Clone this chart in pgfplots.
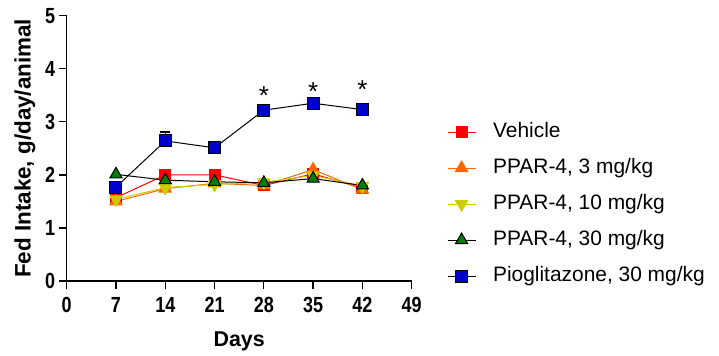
\documentclass[border=0pt]{standalone}
\usepackage{pgfplots}
\pgfplotsset{compat=1.18}
\usepackage{fontspec}
\setmainfont{Liberation Sans}
\newfontfamily\narrowbold[FakeStretch=0.82]{Liberation Sans Bold}
\definecolor{cRed}{RGB}{255,0,0}
\definecolor{cOrange}{RGB}{255,102,0}
\definecolor{cYellow}{RGB}{204,204,0}
\definecolor{cGreen}{RGB}{0,128,0}
\definecolor{cBlue}{RGB}{0,0,204}
\begin{document}
\begin{tikzpicture}
\useasboundingbox (-66.7bp,-75bp) rectangle (652.3bp,281bp);
\begin{axis}[
  at={(0,0)}, anchor=south west,
  scale only axis, width=345bp, height=265.3bp,
  xmin=0, xmax=49, ymin=0, ymax=5,
  axis lines=left,
  axis line style={line width=1.3bp, -},
  xtick={0,7,14,21,28,35,42,49},
  ytick={0,1,2,3,4,5},
  tick align=outside,
  major tick length=8bp,
  tick style={line width=1.3bp, black},
  /pgf/number format/assume math mode=true,
  tick label style={font=\narrowbold\fontsize{22}{26}\selectfont},
  xticklabel style={yshift=-5bp},
  xlabel={Days},
  ylabel={Fed Intake, g/day/animal},
  xlabel style={font=\bfseries\fontsize{21.5}{25}\selectfont, at={(rel axis cs:0.5,0)}, anchor=center, yshift=-60bp},
  ylabel style={font=\bfseries\fontsize{22.5}{26}\selectfont, at={(rel axis cs:0,0.5)}, anchor=center, yshift=41.7bp},
  legend cell align=left,
  legend style={draw=none, fill=none, at={(rel axis cs:1.102,0.29)}, anchor=west,
    inner sep=0pt, font=\fontsize{21}{25}\selectfont, row sep=16bp,
    nodes={text height=15bp, text depth=5bp, inner sep=0pt},
    /tikz/every odd column/.append style={column sep=17bp}},
  legend image code/.code={\draw[mark repeat=2,mark phase=2] plot coordinates {(0bp,0bp)(14bp,0bp)(28bp,0bp)};},
  clip=false,
]
\addplot[cRed, line width=1bp, mark=square*, mark size=5.5bp, mark options={fill=cRed, draw=cRed}]
  coordinates {(7,1.57)(14,2.00)(21,2.00)(28,1.80)(35,2.02)(42,1.75)};
\addlegendentry{Vehicle}
\addplot[cOrange, line width=1bp, mark=triangle*, mark size=7bp, mark options={fill=cOrange, draw=cOrange}]
  coordinates {(7,1.50)(14,1.74)(21,1.84)(28,1.80)(35,2.10)(42,1.72)};
\addlegendentry{PPAR-4, 3 mg/kg}
\addplot[cYellow, line width=1bp, mark=triangle*, mark size=7bp, mark options={fill=cYellow, draw=cYellow, rotate=180}]
  coordinates {(7,1.54)(14,1.76)(21,1.82)(28,1.86)(35,1.99)(42,1.79)};
\addlegendentry{PPAR-4, 10 mg/kg}
\addplot[black, line width=1bp, mark=triangle*, mark size=7bp, mark options={fill=cGreen, draw=black}]
  coordinates {(7,2.01)(14,1.90)(21,1.87)(28,1.85)(35,1.93)(42,1.80)};
\addlegendentry{PPAR-4, 30 mg/kg}
\addplot[black, line width=1bp, mark=square*, mark size=6bp, mark options={fill=cBlue, draw=black},
  error bars/.cd, y dir=plus, y explicit, error mark options={rotate=90, mark size=5bp, line width=1.3bp}, error bar style={line width=1.3bp}]
  coordinates {(7,1.77) +- (0,0) (14,2.64) +- (0,0.17) (21,2.51) +- (0,0) (28,3.22) +- (0,0) (35,3.35) +- (0,0) (42,3.23) +- (0,0)};
\addlegendentry{Pioglitazone, 30 mg/kg}
\addplot[draw=none, forget plot, nodes near coords={*}, nodes near coords align=center,
  every node near coord/.append style={font=\fontsize{26}{30}\selectfont, anchor=center, yshift=-4bp}]
  coordinates {(28,3.57)(35,3.65)(42,3.69)};
\end{axis}
\end{tikzpicture}
\end{document}
